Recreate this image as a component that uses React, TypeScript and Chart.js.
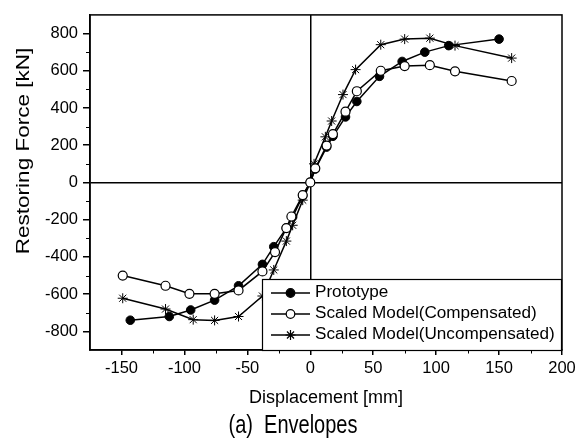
import React, { useEffect, useRef } from 'react';
import { Chart, registerables } from 'chart.js';

Chart.register(...registerables);

const FONT = '"Liberation Sans", Arial, Helvetica, sans-serif';

// ---- data ----
const protoX = [-143, -112, -95, -76, -57, -38, -29, -19, -14, -6, 0, 4, 13, 18, 28, 37, 55, 73, 91, 110, 150];
const protoY = [-740, -720, -685, -632, -555, -440, -345, -245, -185, -72, 0, 72, 190, 248, 352, 435, 570, 650, 700, 735, 770];

const compX = [-149, -115, -96, -76, -57, -38, -28, -19, -15, -6, 0, 4, 13, 18, 28, 37, 56, 75, 95, 115, 160];
const compY = [-500, -555, -598, -598, -580, -478, -374, -245, -183, -68, 0, 76, 198, 260, 380, 490, 600, 625, 630, 597, 545];

const uncX = [-149, -115, -93, -76, -57, -38, -29, -19, -14, -6, 0, 3, 12, 17, 26, 36, 56, 75, 95, 115, 160];
const uncY = [-622, -680, -737, -741, -720, -610, -470, -315, -230, -95, 0, 100, 245, 330, 472, 606, 740, 770, 775, 735, 668];

const xTicks = [-150, -100, -50, 0, 50, 100, 150, 200];
const yTicks = [-800, -600, -400, -200, 0, 200, 400, 600, 800];
const xMinor = [-125, -75, -25, 25, 75, 125, 175];
const yMinor = [-700, -500, -300, -100, 100, 300, 500, 700];

const seriesNames = ['Prototype', 'Scaled Model(Compensated)', 'Scaled Model(Uncompensated)'];
const xTitle = 'Displacement [mm]';
const yTitle = 'Restoring Force [kN]';
const caption = '(a)  Envelopes';

const toPts = (xs: number[], ys: number[]) => xs.map((x, i) => ({ x, y: ys[i] }));

function drawMarker(ctx: CanvasRenderingContext2D, kind: number, x: number, y: number) {
  ctx.save();
  ctx.strokeStyle = '#000';
  ctx.lineWidth = 1.2;
  if (kind === 0 || kind === 1) {
    ctx.beginPath();
    ctx.arc(x, y, 4.3, 0, Math.PI * 2);
    ctx.fillStyle = kind === 0 ? '#000' : '#fff';
    ctx.fill();
    ctx.stroke();
  } else {
    const r = 5;
    ctx.beginPath();
    for (let k = 0; k < 4; k++) {
      const a = (k * Math.PI) / 4;
      ctx.moveTo(x - r * Math.cos(a), y - r * Math.sin(a));
      ctx.lineTo(x + r * Math.cos(a), y + r * Math.sin(a));
    }
    ctx.stroke();
  }
  ctx.restore();
}

const decor = {
  id: 'decor',
  afterDraw(chart: any) {
    const { ctx, chartArea: a, scales } = chart;
    const xs = scales.x;
    const ys = scales.y;
    ctx.save();
    // frame
    ctx.strokeStyle = '#000';
    ctx.lineWidth = 1.5;
    ctx.strokeRect(a.left, a.top, a.right - a.left, a.bottom - a.top);
    // minor ticks
    ctx.lineWidth = 1;
    ctx.beginPath();
    xMinor.forEach((v) => {
      const p = Math.round(xs.getPixelForValue(v)) + 0.5;
      ctx.moveTo(p, a.bottom);
      ctx.lineTo(p, a.bottom + 3.5);
    });
    yMinor.forEach((v) => {
      const p = Math.round(ys.getPixelForValue(v)) + 0.5;
      ctx.moveTo(a.left, p);
      ctx.lineTo(a.left - 4, p);
    });
    ctx.stroke();

    // legend box
    const lx = 262;
    const ly = 279;
    const lr = a.right - 1;
    const lb = a.bottom;
    ctx.fillStyle = '#fff';
    ctx.fillRect(lx, ly, lr - lx, lb - ly);
    ctx.strokeStyle = '#000';
    ctx.lineWidth = 1.2;
    ctx.strokeRect(lx + 0.5, ly + 0.5, lr - lx, lb - ly);
    const rows = [293, 314, 335];
    seriesNames.forEach((name, i) => {
      const y = rows[i];
      ctx.beginPath();
      ctx.strokeStyle = '#000';
      ctx.lineWidth = 1.5;
      ctx.moveTo(271, y);
      ctx.lineTo(310, y);
      ctx.stroke();
      drawMarker(ctx, i, 290.5, y);
      ctx.save();
      ctx.translate(315, y);
      ctx.scale(1.07, 1);
      ctx.fillStyle = '#000';
      ctx.font = `16px ${FONT}`;
      ctx.textAlign = 'left';
      ctx.textBaseline = 'middle';
      ctx.fillText(name, 0, 0);
      ctx.restore();
    });

    // y title
    ctx.save();
    ctx.translate(24, 151);
    ctx.rotate(-Math.PI / 2);
    ctx.scale(1.25, 1);
    ctx.fillStyle = '#000';
    ctx.font = `18px ${FONT}`;
    ctx.textAlign = 'center';
    ctx.textBaseline = 'middle';
    ctx.fillText(yTitle, 0, 0);
    ctx.restore();

    // caption
    ctx.save();
    ctx.translate(293, 426);
    ctx.scale(0.8, 1);
    ctx.fillStyle = '#000';
    ctx.font = `25px ${FONT}`;
    ctx.textAlign = 'center';
    ctx.textBaseline = 'middle';
    ctx.fillText(caption, 0, 0);
    ctx.restore();

    ctx.restore();
  },
};

export default function App() {
  const ref = useRef<HTMLCanvasElement | null>(null);

  useEffect(() => {
    if (!ref.current) return;
    const zeroColor = (c: any) => (c.tick && c.tick.value === 0 ? '#000' : 'rgba(0,0,0,0)');
    const chart = new Chart(ref.current, {
      type: 'scatter',
      data: {
        datasets: [
          {
            label: seriesNames[0],
            data: toPts(protoX, protoY),
            showLine: true,
            borderColor: '#000',
            borderWidth: 1.5,
            pointStyle: 'circle',
            pointRadius: 4.3,
            pointBackgroundColor: '#000',
            pointBorderColor: '#000',
            pointBorderWidth: 1,
            order: 1,
          },
          {
            label: seriesNames[1],
            data: toPts(compX, compY),
            showLine: true,
            borderColor: '#000',
            borderWidth: 1.5,
            pointStyle: 'circle',
            pointRadius: 4.5,
            pointBackgroundColor: '#fff',
            pointBorderColor: '#000',
            pointBorderWidth: 1.2,
            order: 0,
          },
          {
            label: seriesNames[2],
            data: toPts(uncX, uncY),
            showLine: true,
            borderColor: '#000',
            borderWidth: 1.5,
            pointStyle: 'star',
            pointRadius: 5,
            pointBackgroundColor: '#000',
            pointBorderColor: '#000',
            pointBorderWidth: 1,
            order: 2,
          },
        ],
      },
      options: {
        animation: false,
        responsive: false,
        maintainAspectRatio: false,
        layout: { padding: { left: 0, top: 7, right: 24, bottom: 0 } },
        plugins: { legend: { display: false }, tooltip: { enabled: false } },
        scales: {
          x: {
            type: 'linear',
            min: -175,
            max: 200,
            afterBuildTicks: (s: any) => {
              s.ticks = xTicks.map((v) => ({ value: v }));
            },
            afterFit: (s: any) => {
              s.height = 93;
            },
            ticks: {
              font: { family: FONT, size: 16.5 },
              color: '#000',
              padding: 4,
              maxRotation: 0,
              autoSkip: false,
            },
            grid: {
              color: zeroColor,
              lineWidth: 1.5,
              drawTicks: true,
              tickLength: 5,
              tickColor: '#000',
              tickWidth: 1.5,
            },
            border: { display: true, color: '#000', width: 1.5 },
            title: {
              display: true,
              text: xTitle,
              color: '#000',
              font: { family: FONT, size: 18 },
              padding: { top: 0, bottom: 34 },
            },
          },
          y: {
            type: 'linear',
            min: -900,
            max: 900,
            afterBuildTicks: (s: any) => {
              s.ticks = yTicks.map((v) => ({ value: v }));
            },
            afterFit: (s: any) => {
              s.width = 90;
            },
            ticks: {
              font: { family: FONT, size: 16.5 },
              color: '#000',
              padding: 5,
              autoSkip: false,
            },
            grid: {
              color: zeroColor,
              lineWidth: 1.5,
              drawTicks: true,
              tickLength: 7,
              tickColor: '#000',
              tickWidth: 1.5,
            },
            border: { display: true, color: '#000', width: 1.5 },
            title: { display: false },
          },
        },
      },
      plugins: [decor],
    } as any);
    return () => chart.destroy();
  }, []);

  return (
    <div style={{ position: 'absolute', left: 0, top: 0, width: 586, height: 443, background: '#fff' }}>
      <canvas ref={ref} width={586} height={443} style={{ display: 'block' }} />
    </div>
  );
}
